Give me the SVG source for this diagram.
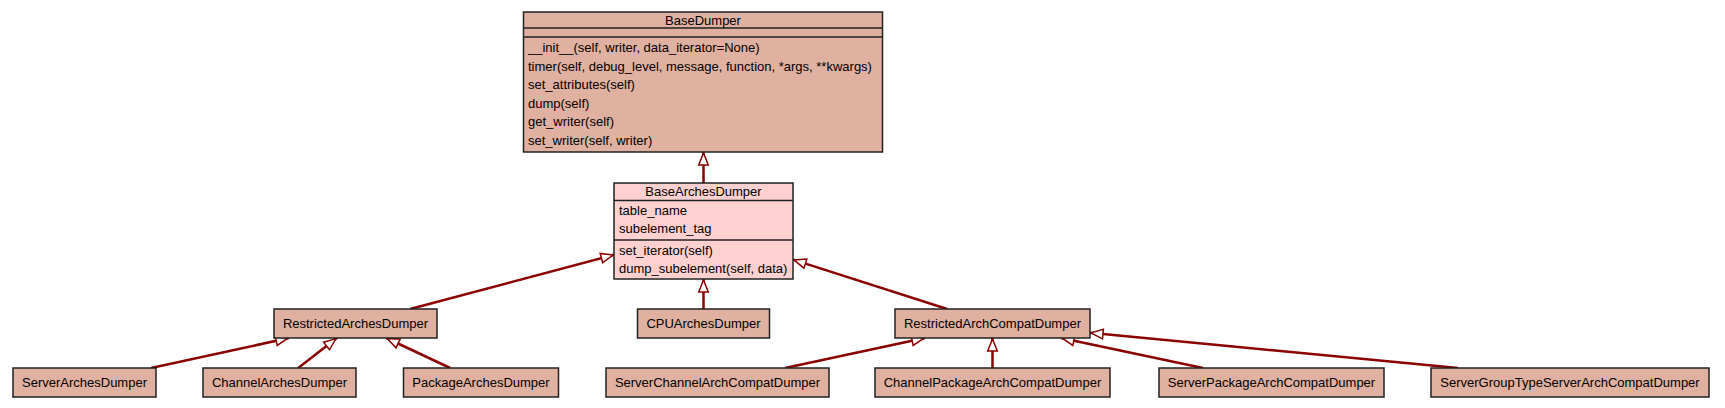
<svg xmlns="http://www.w3.org/2000/svg" width="1725" height="408" viewBox="0 0 1725 408">
<style>
.n{fill:#e0b0a0;stroke:#222;stroke-width:1.5}
.p{fill:#ffd0d0;stroke:#222;stroke-width:1.5}
.s{stroke:#222;stroke-width:1.5;fill:none}
text{font-family:"Liberation Sans",Arial,sans-serif;font-size:13px;fill:#000}
.c{text-anchor:middle}
.e{stroke:#8b0000;stroke-width:2.5;fill:none;marker-end:url(#tri)}
</style>
<defs>
<marker id="tri" viewBox="-15 -8 17 16" refX="0" refY="0" markerWidth="17" markerHeight="16" markerUnits="userSpaceOnUse" orient="auto">
<path d="M-1,0 L-13,-4.8 L-13,4.8 Z" fill="#fff" stroke="#8b0000" stroke-width="1.5"/>
</marker>
</defs>
<rect width="1725" height="408" fill="#fff"/>
<g id="connectors">
<line class="e" x1="703.5" y1="183" x2="703.5" y2="152"/>
<line class="e" x1="410.2" y1="309" x2="614" y2="254.8"/>
<line class="e" x1="703.5" y1="309" x2="703.5" y2="279"/>
<line class="e" x1="947.2" y1="309" x2="793" y2="259.6"/>
<line class="e" x1="151.1" y1="368" x2="288.9" y2="338"/>
<line class="e" x1="298.2" y1="368" x2="336.8" y2="338"/>
<line class="e" x1="450.2" y1="368" x2="386.3" y2="338"/>
<line class="e" x1="785.1" y1="368" x2="924.9" y2="338"/>
<line class="e" x1="992.5" y1="368" x2="992.5" y2="338"/>
<line class="e" x1="1202.9" y1="368" x2="1061.1" y2="338"/>
<line class="e" x1="1458" y1="368" x2="1090" y2="332.8"/>
</g>
<g id="BaseDumper">
<rect class="n" x="523.5" y="12" width="359" height="140"/>
<line class="s" x1="523.5" y1="28" x2="882.5" y2="28"/>
<line class="s" x1="523.5" y1="37" x2="882.5" y2="37"/>
<text class="c" x="703" y="24.5">BaseDumper</text>
<text x="528" y="52">__init__(self, writer, data_iterator=None)</text>
<text x="528" y="70.5">timer(self, debug_level, message, function, *args, **kwargs)</text>
<text x="528" y="89">set_attributes(self)</text>
<text x="528" y="107.5">dump(self)</text>
<text x="528" y="126">get_writer(self)</text>
<text x="528" y="144.5">set_writer(self, writer)</text>
</g>
<g id="BaseArchesDumper">
<rect class="p" x="614" y="183" width="179" height="96"/>
<line class="s" x1="614" y1="200.5" x2="793" y2="200.5"/>
<line class="s" x1="614" y1="240" x2="793" y2="240"/>
<text class="c" x="703.5" y="195.5">BaseArchesDumper</text>
<text x="619" y="214.5">table_name</text>
<text x="619" y="233">subelement_tag</text>
<text x="619" y="254.5">set_iterator(self)</text>
<text x="619" y="273">dump_subelement(self, data)</text>
</g>
<g id="RestrictedArchesDumper">
<rect class="n" x="274" y="309" width="163" height="29"/>
<text class="c" x="355.5" y="328">RestrictedArchesDumper</text>
</g>
<g id="CPUArchesDumper">
<rect class="n" x="637.5" y="309" width="132" height="29"/>
<text class="c" x="703.5" y="328">CPUArchesDumper</text>
</g>
<g id="RestrictedArchCompatDumper">
<rect class="n" x="895" y="309" width="195" height="29"/>
<text class="c" x="992.5" y="328">RestrictedArchCompatDumper</text>
</g>
<g id="ServerArchesDumper">
<rect class="n" x="13" y="368" width="143" height="29"/>
<text class="c" x="84.5" y="387">ServerArchesDumper</text>
</g>
<g id="ChannelArchesDumper">
<rect class="n" x="203" y="368" width="153" height="29"/>
<text class="c" x="279.5" y="387">ChannelArchesDumper</text>
</g>
<g id="PackageArchesDumper">
<rect class="n" x="403.5" y="368" width="155" height="29"/>
<text class="c" x="481" y="387">PackageArchesDumper</text>
</g>
<g id="ServerChannelArchCompatDumper">
<rect class="n" x="606" y="368" width="223" height="29"/>
<text class="c" x="717.5" y="387">ServerChannelArchCompatDumper</text>
</g>
<g id="ChannelPackageArchCompatDumper">
<rect class="n" x="875" y="368" width="235" height="29"/>
<text class="c" x="992.5" y="387">ChannelPackageArchCompatDumper</text>
</g>
<g id="ServerPackageArchCompatDumper">
<rect class="n" x="1159" y="368" width="225" height="29"/>
<text class="c" x="1271.5" y="387">ServerPackageArchCompatDumper</text>
</g>
<g id="ServerGroupTypeServerArchCompatDumper">
<rect class="n" x="1431" y="368" width="278" height="29"/>
<text class="c" x="1570" y="387">ServerGroupTypeServerArchCompatDumper</text>
</g>
</svg>
